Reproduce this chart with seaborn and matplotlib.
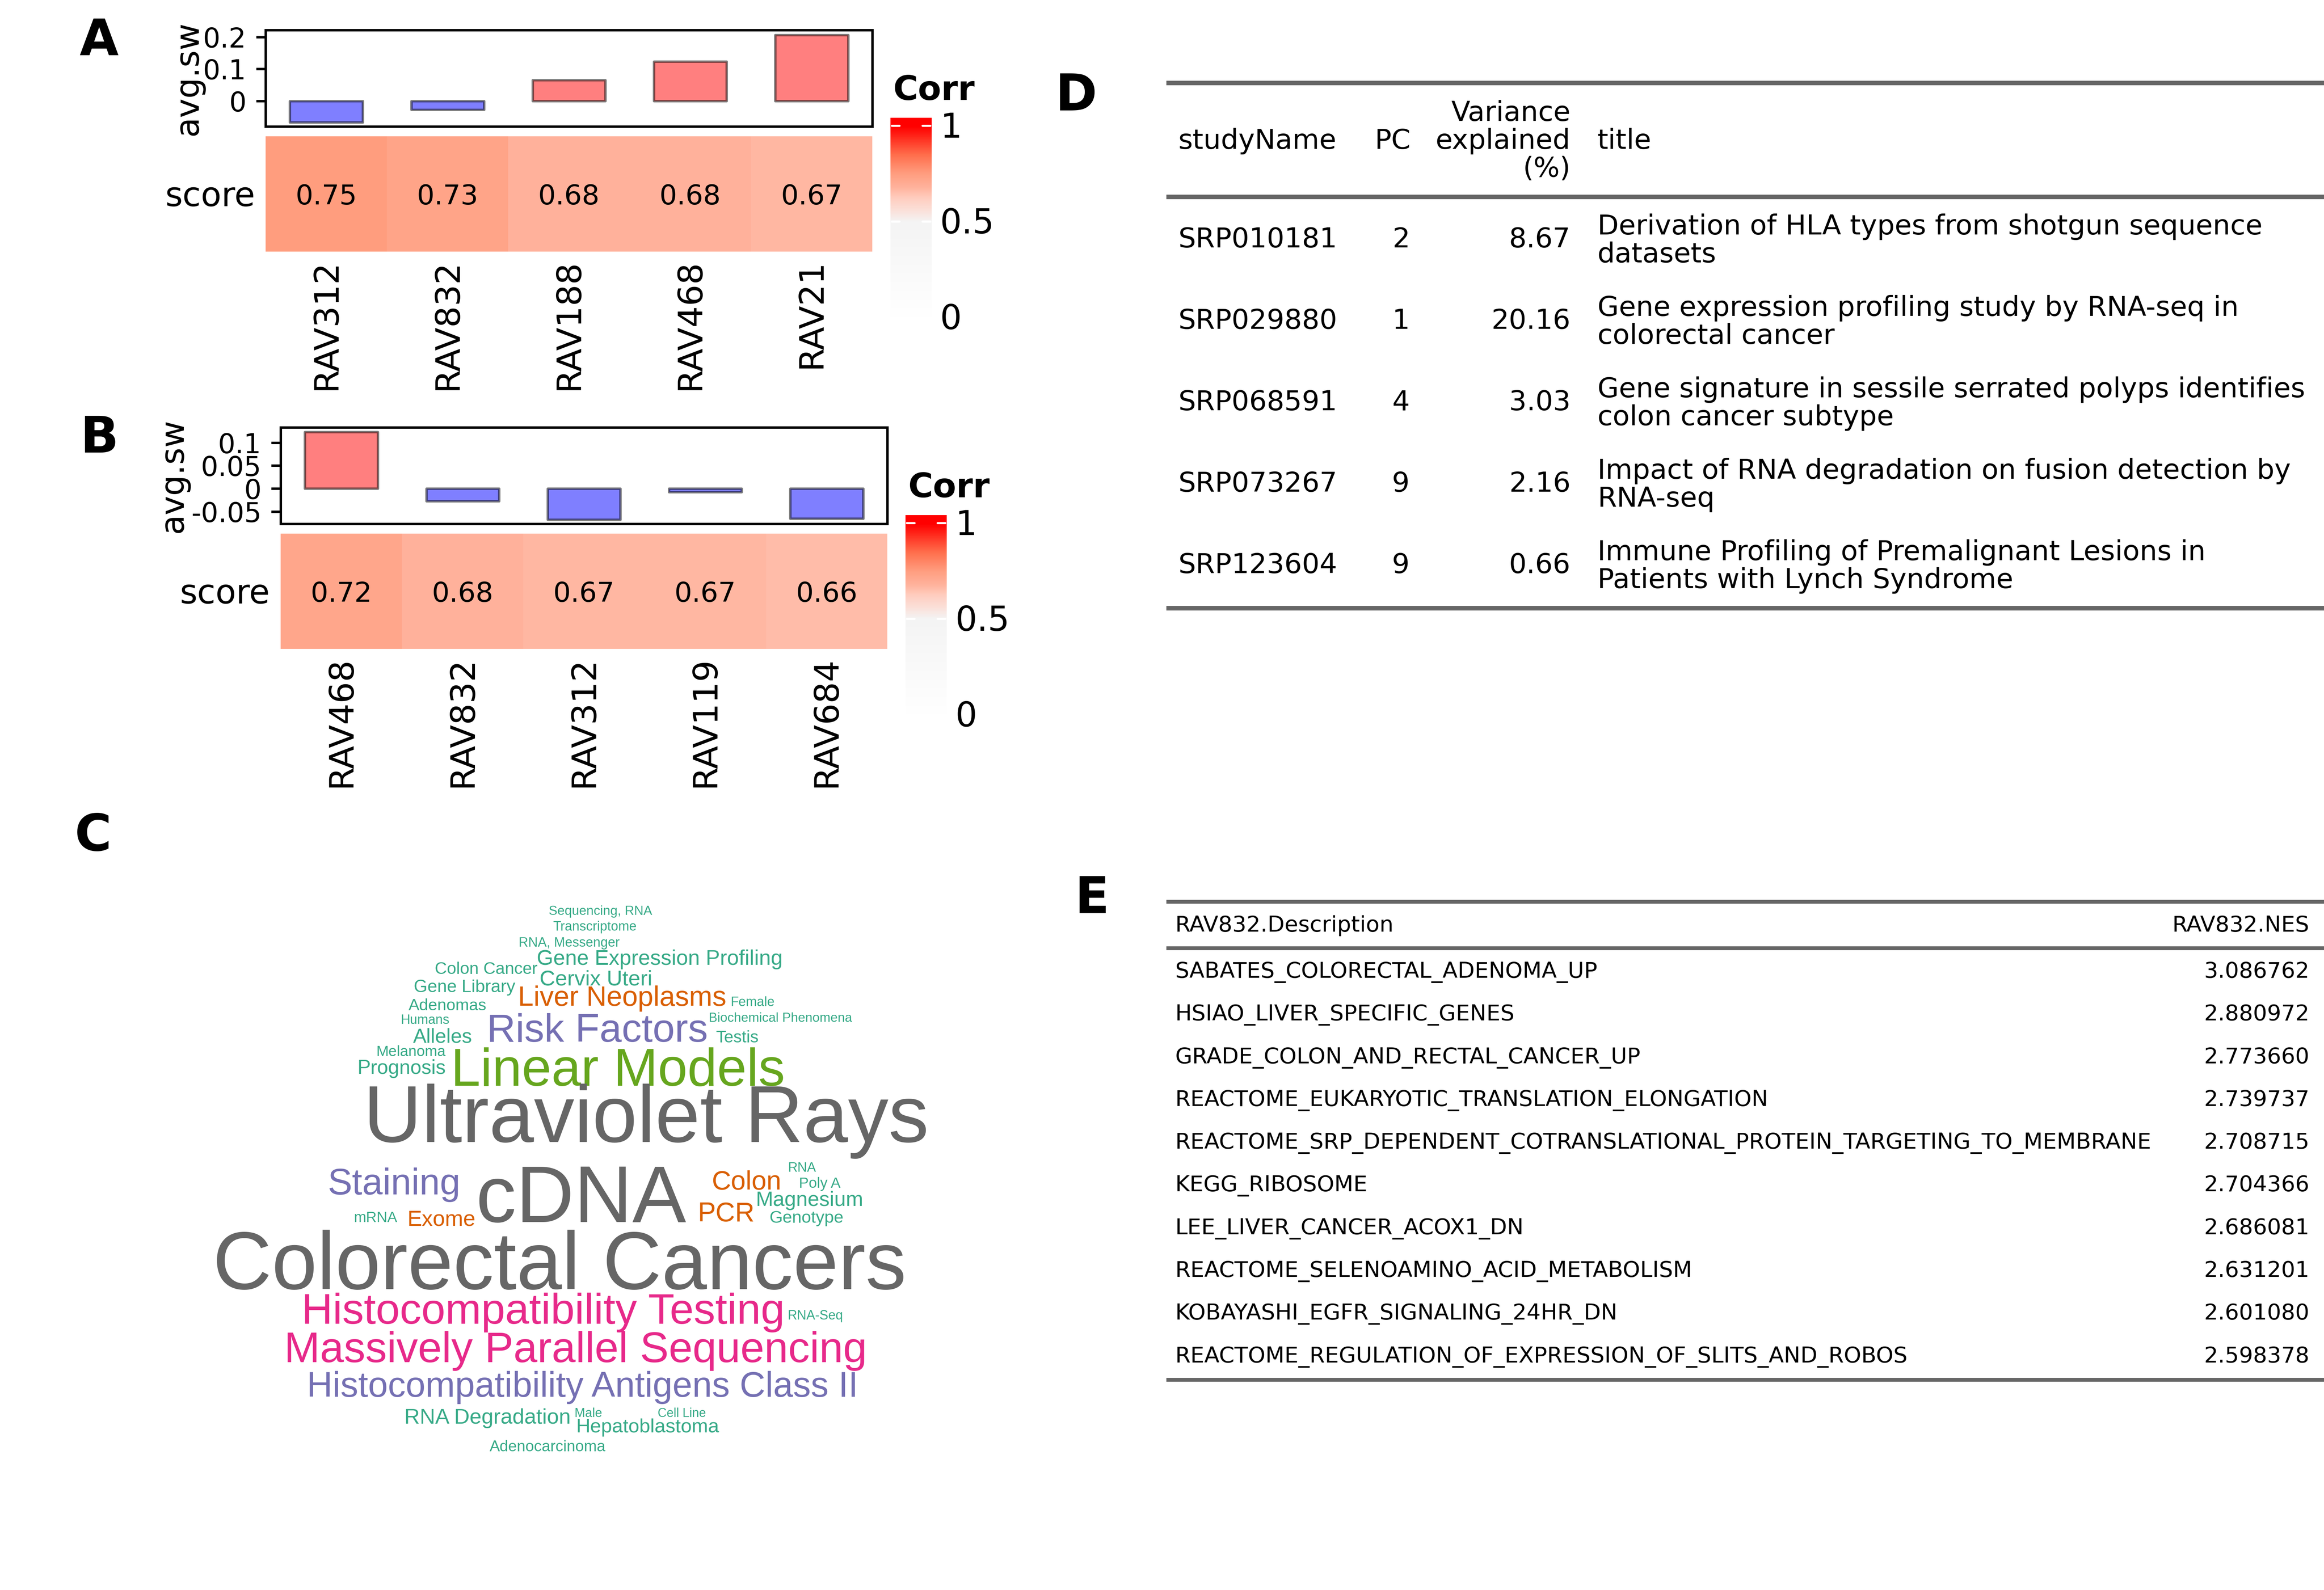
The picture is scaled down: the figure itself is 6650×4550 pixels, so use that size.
import numpy as np
import pandas as pd
import matplotlib
matplotlib.use("Agg")
import matplotlib.pyplot as plt
import seaborn as sns
from matplotlib.colors import LinearSegmentedColormap

W, H = 6650, 4550
DPI = 300

# panel A
rav_a = ["RAV312", "RAV832", "RAV188", "RAV468", "RAV21"]
score_a = [0.75, 0.73, 0.68, 0.68, 0.67]
sw_a = [-0.067, -0.027, 0.066, 0.124, 0.207]
ticks_a = [0, 0.1, 0.2]
ticklabels_a = ["0", "0.1", "0.2"]

# panel B
rav_b = ["RAV468", "RAV832", "RAV312", "RAV119", "RAV684"]
score_b = [0.72, 0.68, 0.67, 0.67, 0.66]
sw_b = [0.1235, -0.0274, -0.0676, -0.0073, -0.0654]
ticks_b = [-0.05, 0, 0.05, 0.1]
ticklabels_b = ["-0.05", "0", "0.05", "0.1"]

# panel C
words = [
    "Sequencing, RNA", "Transcriptome", "RNA, Messenger", "Gene Expression Profiling",
    "Colon Cancer", "Cervix Uteri", "Gene Library", "Liver Neoplasms", "Female",
    "Adenomas", "Biochemical Phenomena", "Humans", "Risk Factors", "Alleles", "Testis",
    "Melanoma", "Prognosis", "Linear Models", "Ultraviolet Rays", "cDNA", "Staining",
    "Colon", "RNA", "Poly A", "Magnesium", "PCR", "Genotype", "mRNA", "Exome",
    "Colorectal Cancers", "Histocompatibility Testing", "RNA-Seq",
    "Massively Parallel Sequencing", "Histocompatibility Antigens Class II",
    "RNA Degradation", "Male", "Cell Line", "Hepatoblastoma", "Adenocarcinoma",
]
word_groups = [
    "t", "t", "t", "t", "t", "t", "t", "o", "t", "t", "t", "t", "p", "t", "t",
    "t", "t", "g", "k", "k", "p", "o", "t", "t", "t", "o", "t", "t", "o",
    "k", "m", "t", "m", "p", "t", "t", "t", "t", "t",
]

# panel D
study_names = ["SRP010181", "SRP029880", "SRP068591", "SRP073267", "SRP123604"]
study_pc = [2, 1, 4, 9, 9]
study_var = [8.67, 20.16, 3.03, 2.16, 0.66]
study_titles = [
    "Derivation of HLA types from shotgun sequence\ndatasets",
    "Gene expression profiling study by RNA-seq in\ncolorectal cancer",
    "Gene signature in sessile serrated polyps identifies\ncolon cancer subtype",
    "Impact of RNA degradation on fusion detection by\nRNA-seq",
    "Immune Profiling of Premalignant Lesions in\nPatients with Lynch Syndrome",
]

# panel E
gsea_names = [
    "SABATES_COLORECTAL_ADENOMA_UP",
    "HSIAO_LIVER_SPECIFIC_GENES",
    "GRADE_COLON_AND_RECTAL_CANCER_UP",
    "REACTOME_EUKARYOTIC_TRANSLATION_ELONGATION",
    "REACTOME_SRP_DEPENDENT_COTRANSLATIONAL_PROTEIN_TARGETING_TO_MEMBRANE",
    "KEGG_RIBOSOME",
    "LEE_LIVER_CANCER_ACOX1_DN",
    "REACTOME_SELENOAMINO_ACID_METABOLISM",
    "KOBAYASHI_EGFR_SIGNALING_24HR_DN",
    "REACTOME_REGULATION_OF_EXPRESSION_OF_SLITS_AND_ROBOS",
]
gsea_nes = [3.086762, 2.880972, 2.773660, 2.739737, 2.708715,
            2.704366, 2.686081, 2.631201, 2.601080, 2.598378]

# word cloud layout in pixels: left, right, baseline
word_boxes = [
    (1572, 1865, 2618), (1584, 1820, 2663), (1486, 1772, 2709), (1540, 2235, 2761),
    (1246, 1537, 2787), (1546, 1865, 2819), (1186, 1473, 2839), (1485, 2075, 2878),
    (2091, 2216, 2879), (1170, 1391, 2891), (2031, 2436, 2924), (1148, 1286, 2930),
    (1396, 2022, 2981), (1183, 1351, 2983), (2050, 2171, 2983), (1077, 1274, 3022),
    (1023, 1274, 3073), (1295, 2241, 3106), (1049, 2649, 3268), (1364, 1960, 3497),
    (939, 1315, 3418), (2037, 2234, 3404), (2255, 2335, 3353), (2287, 2405, 3399),
    (2164, 2469, 3451), (1998, 2159, 3495), (2203, 2413, 3499), (1013, 1136, 3497),
    (1167, 1360, 3508), (620, 2582, 3689), (870, 2238, 3788), (2255, 2412, 3776),
    (821, 2472, 3898), (887, 2447, 3997), (1160, 1630, 4074), (1644, 1722, 4055),
    (1883, 2020, 4055), (1651, 2056, 4099), (1403, 1731, 4153),
]
word_colors = {"t": "#1B9E77", "o": "#D95F02", "p": "#7570B3",
               "g": "#66A61E", "k": "#666666", "m": "#E7298A"}

sns.set_theme(style="white")
plt.rcParams["font.family"] = ["DejaVu Sans"]
plt.rcParams["axes.edgecolor"] = "black"
plt.rcParams["text.color"] = "black"
plt.rcParams["xtick.color"] = "black"
plt.rcParams["ytick.color"] = "black"
plt.rcParams["axes.labelcolor"] = "black"

corr_cmap = LinearSegmentedColormap.from_list(
    "corr",
    [(0, "#FFFFFF"), (0.5, "#F4F4F4"), (0.56, "#FBE0D9"), (0.625, "#FFCDBF"),
     (0.68, "#FFB29C"), (0.75, "#FF9E80"), (0.85, "#FF6E4C"), (1, "#FF0000")],
)


def pt(px):
    return px * 72 / DPI


fig = plt.figure(figsize=(W / DPI, H / DPI), dpi=DPI, facecolor="white")


def px_axes(x0, y0, x1, y1):
    return fig.add_axes([x0 / W, 1 - y1 / H, (x1 - x0) / W, (y1 - y0) / H])


def rav_panel(rav, score, sw, ticks, ticklabels, ylim, dx, dy, label_x):
    # bar annotation on top
    ax_bar = px_axes(760 + dx, 86 + dy, 2496 + dx, 362 + dy)
    bar_colors = ["#FF0000" if v > 0 else "#0000FF" for v in sw]
    sns.barplot(x=rav, y=sw, hue=rav, palette=bar_colors, saturation=1, width=0.6,
                edgecolor="black", linewidth=pt(7), alpha=0.5, legend=False, ax=ax_bar)
    for patch in ax_bar.patches:
        patch.set_joinstyle("round")
    ax_bar.set_xlim(-0.5, len(rav) - 0.5)
    ax_bar.set_ylim(*ylim)
    ax_bar.set_xticks([])
    ax_bar.set_yticks(ticks)
    ax_bar.set_yticklabels(ticklabels, fontsize=18.7)
    ax_bar.tick_params(axis="y", left=True, length=pt(27), width=pt(7), pad=pt(28))
    for spine in ax_bar.spines.values():
        spine.set_visible(True)
        spine.set_linewidth(pt(7))
        spine.set_color("black")
    ax_bar.set_ylabel("avg.sw", fontsize=22.5, va="center")
    ax_bar.yaxis.set_label_coords((label_x - 760 - dx) / 1736, 0.5)

    # score heatmap
    ax_heat = px_axes(760 + dx, 390 + dy, 2496 + dx, 720 + dy)
    table = pd.DataFrame([score], index=["score"], columns=rav)
    sns.heatmap(table, cmap=corr_cmap, vmin=0, vmax=1, annot=True, fmt=".2f",
                annot_kws={"fontsize": 19, "color": "black", "va": "center_baseline"},
                cbar=False, ax=ax_heat)
    ax_heat.tick_params(axis="x", length=0, pad=pt(22), labelsize=23.2)
    ax_heat.tick_params(axis="y", length=0, pad=pt(30), labelsize=23)
    plt.setp(ax_heat.get_xticklabels(), rotation=90, va="top", ha="center")
    ax_heat.set_yticks([0.525], ["score"], rotation=0)

    # colour legend
    ax_leg = px_axes(2548 + dx, 337 + dy, 2666 + dx, 908 + dy)
    top = 1 + 23 / 548
    gradient = np.linspace(top, 0, 400).reshape(-1, 1)
    ax_leg.imshow(gradient, cmap=corr_cmap, vmin=0, vmax=1, aspect="auto",
                  extent=[0, 1, 0, top])
    for level in [1, 0.5]:
        for a, b in [(0.03, 0.22), (0.78, 0.97)]:
            ax_leg.plot([a, b], [level, level], color="white", lw=pt(6),
                        solid_capstyle="round")
    ax_leg.set_xlim(0, 1)
    ax_leg.set_ylim(0, top)
    ax_leg.set_xticks([])
    ax_leg.set_yticks([0.007, 0.507, 1.007], ["0", "0.5", "1"], fontsize=23.5)
    ax_leg.yaxis.tick_right()
    ax_leg.tick_params(axis="y", length=0, pad=pt(24), right=False)
    for spine in ax_leg.spines.values():
        spine.set_visible(False)
    canvas.text(2555 + dx, 286 + dy, "Corr", fontsize=23.3, fontweight="bold",
                va="baseline", ha="left")


# full figure canvas in pixel coordinates for letters, tables and words
canvas = px_axes(0, 0, W, H)
canvas.set_xlim(0, W)
canvas.set_ylim(H, 0)
canvas.axis("off")

rav_panel(rav_a, score_a, sw_a, ticks_a, ticklabels_a, (-0.08, 0.222), 0, 0, 538)
rav_panel(rav_b, score_b, sw_b, ticks_b, ticklabels_b, (-0.077, 0.1335), 43, 1137, 495)

# panel letters
for letter, x, y in [("A", 227, 158), ("B", 230, 1295), ("C", 214, 2434),
                     ("D", 3020, 316), ("E", 3076, 2613)]:
    canvas.text(x, y, letter, fontsize=34.6, fontweight="bold", va="baseline", ha="left")

# word cloud, every word is sized to the width it has in the picture
renderer = fig.canvas.get_renderer()
for word, group, (x0, x1, base) in zip(words, word_groups, word_boxes):
    small = group == "t"
    t = canvas.text((x0 + x1) / 2, base, word, family="Liberation Sans", fontsize=20,
                    color=word_colors[group], alpha=0.88 if small else 1,
                    va="baseline", ha="center")
    width = t.get_window_extent(renderer).width
    t.set_fontsize(20 * 1.012 * (x1 - x0) / width)

# table D
RULE = "#666666"
for y in [237, 563, 1740]:
    canvas.plot([3337, W], [y, y], color=RULE, lw=pt(13), solid_capstyle="butt")

d_font = 19
canvas.text(3372, 426, "studyName", fontsize=d_font, va="baseline")
canvas.text(4036, 426, "PC", fontsize=d_font, va="baseline", ha="right")
for line, y in zip(["Variance", "explained", "(%)"], [346, 426, 506]):
    canvas.text(4494, y, line, fontsize=d_font, va="baseline", ha="right")
canvas.text(4571, 426, "title", fontsize=d_font, va="baseline")

for i, (name, pc, var, title) in enumerate(zip(study_names, study_pc, study_var, study_titles)):
    base = 708 + i * 233
    canvas.text(3372, base, name, fontsize=d_font, va="baseline")
    canvas.text(4034, base, str(pc), fontsize=d_font, va="baseline", ha="right")
    canvas.text(4494, base, f"{var:.2f}", fontsize=d_font, va="baseline", ha="right")
    for j, line in enumerate(title.split("\n")):
        canvas.text(4571, base - 37 + j * 80, line, fontsize=d_font, va="baseline")

# table E
for y in [2580, 2713, 3948]:
    canvas.plot([3337, W], [y, y], color=RULE, lw=pt(11), solid_capstyle="butt")

e_font = 15.2
canvas.text(3363, 2666, "RAV832.Description", fontsize=e_font, va="baseline")
canvas.text(6608, 2666, "RAV832.NES", fontsize=e_font, va="baseline", ha="right")
for i, (name, nes) in enumerate(zip(gsea_names, gsea_nes)):
    base = 2798 + i * 122.3
    canvas.text(3363, base, name, fontsize=e_font, va="baseline")
    canvas.text(6608, base, f"{nes:.6f}", fontsize=e_font, va="baseline", ha="right")

fig.savefig("out.png", dpi=DPI, facecolor="white")
plt.close(fig)
